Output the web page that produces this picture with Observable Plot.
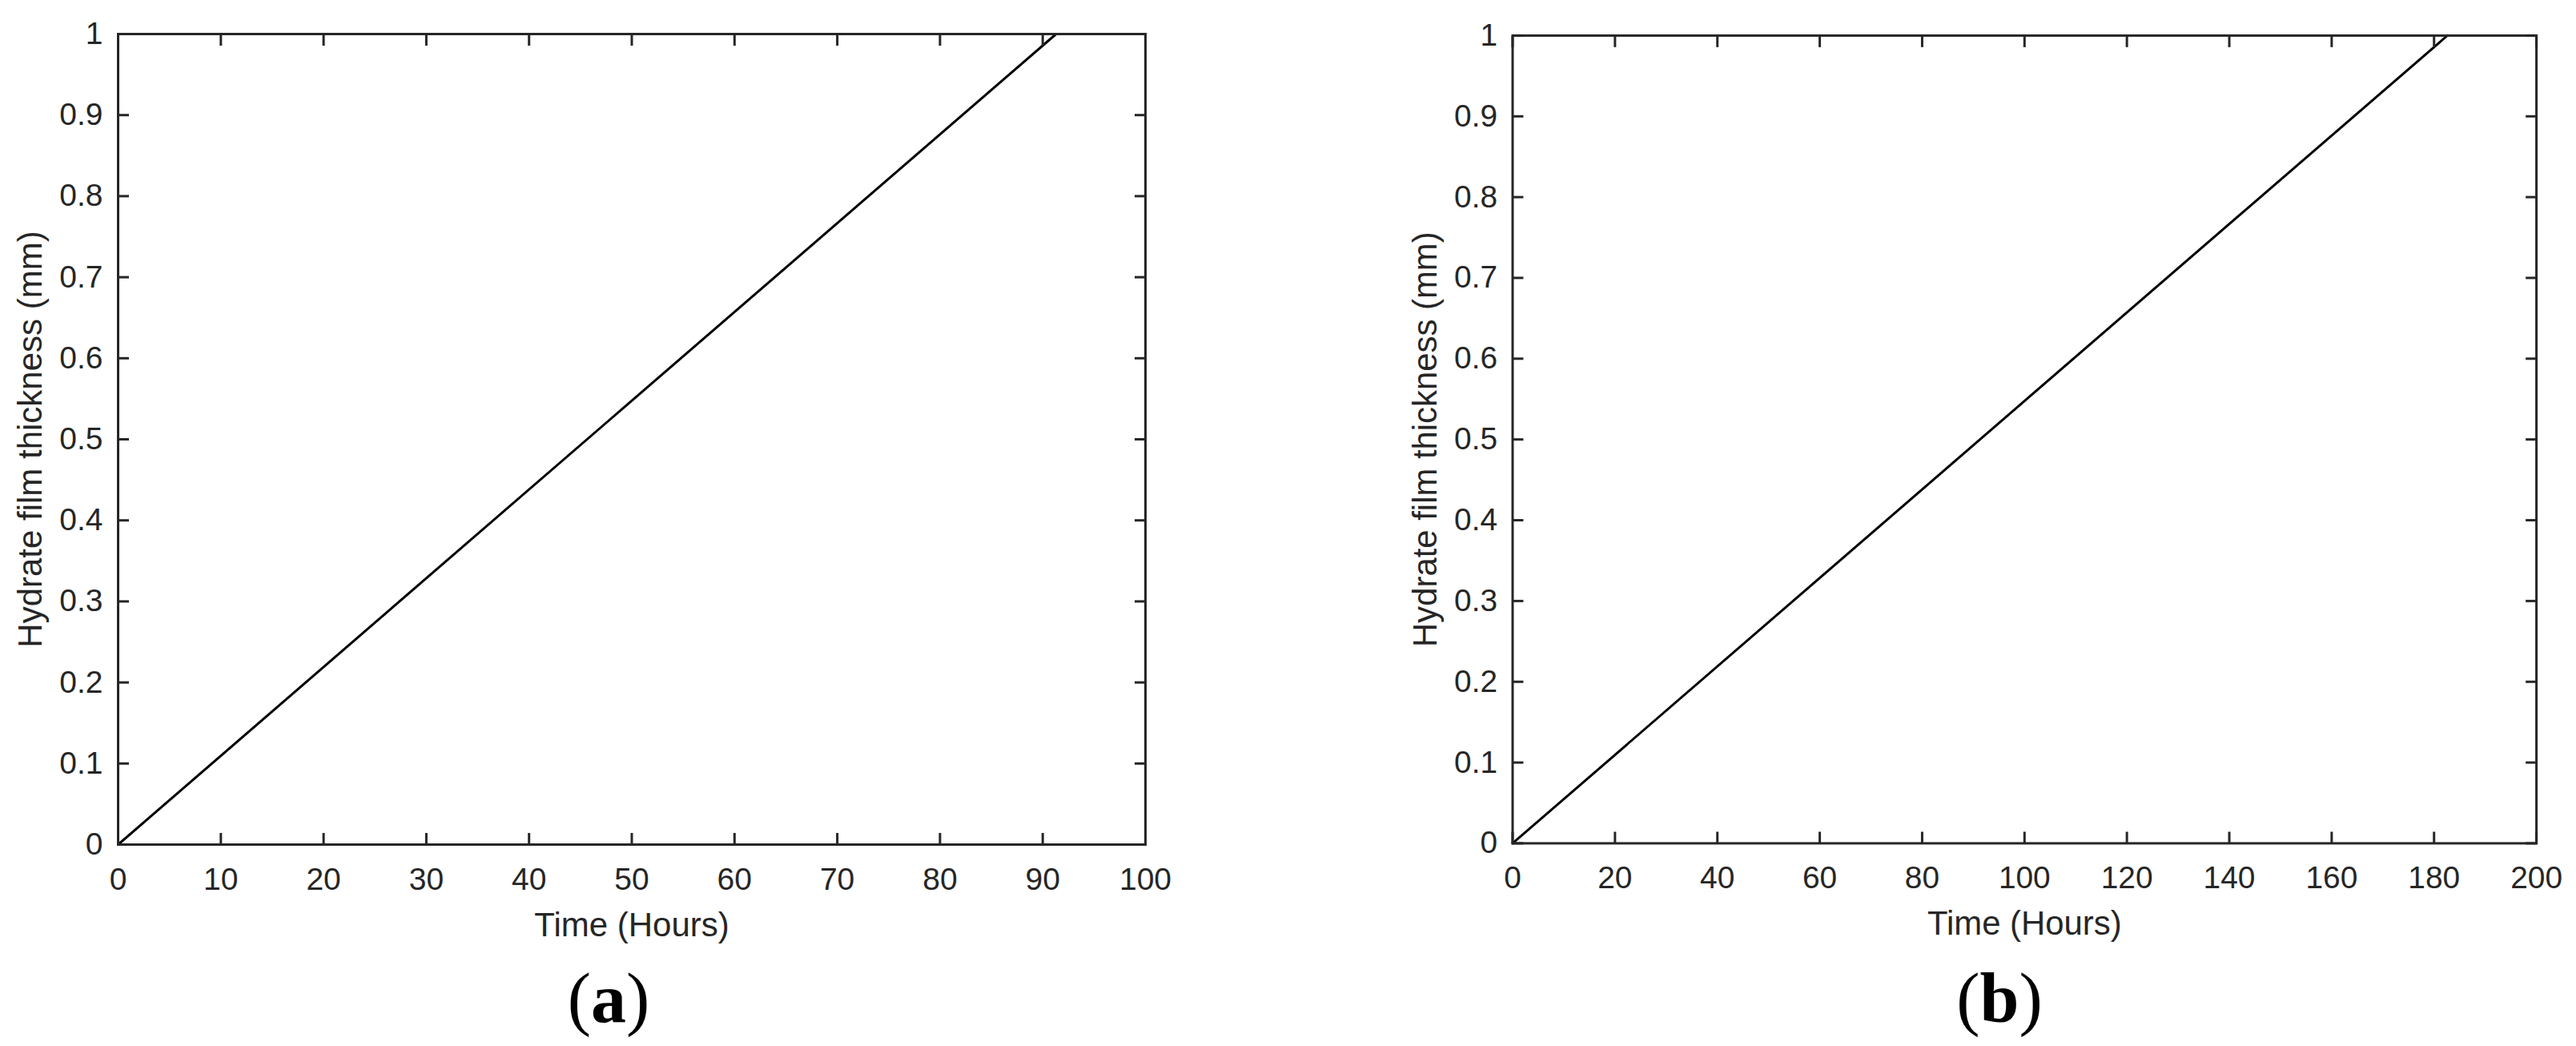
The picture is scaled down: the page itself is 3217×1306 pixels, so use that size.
<!DOCTYPE html>
<html>
<head>
<meta charset="utf-8">
<script src="https://cdn.jsdelivr.net/npm/d3@7"></script>
<script src="https://cdn.jsdelivr.net/npm/@observablehq/plot@0.6"></script>
<style>
  html, body { margin: 0; padding: 0; background: #fff; }
  #wrap { position: relative; width: 3217px; height: 1306px; background: #fff; overflow: hidden; }
  .panel { position: absolute; top: 0; }
  .cap { position: absolute; font-family: "Liberation Serif", "Times New Roman", serif; font-size: 88px; line-height: 88px; color: #000; transform: translateX(-50%); white-space: nowrap; }
  .cap b { font-weight: bold; }
</style>
</head>
<body>
<div id="wrap"></div>
<script>
// ---- data ----
const timeA = [0, 91.3];
const thickA = [0, 1];
const timeB = [0, 182.6];
const thickB = [0, 1];
const xTicksA = [0, 10, 20, 30, 40, 50, 60, 70, 80, 90, 100];
const xTicksB = [0, 20, 40, 60, 80, 100, 120, 140, 160, 180, 200];
const yTicks = [0, 0.1, 0.2, 0.3, 0.4, 0.5, 0.6, 0.7, 0.8, 0.9, 1];
const xLabel = "Time (Hours)";
const yLabel = "Hydrate film thickness (mm)";
const captions = ["a", "b"];

const fmt = d => String(+d.toFixed(2));
const ink = "#262626";

function panel(times, thick, xDomain, xTicks) {
  const data = times.map((t, i) => ({t, h: thick[i]}));
  const tickOpts = {tickSize: -14, strokeWidth: 3, stroke: ink};
  return Plot.plot({
    width: 1460,
    height: 1200,
    marginLeft: 147,
    marginRight: 30,
    marginTop: 42,
    marginBottom: 146,
    style: {fontFamily: "'Liberation Sans', Arial, sans-serif", fontSize: "39px", color: ink, background: "transparent", overflow: "visible"},
    x: {domain: xDomain},
    y: {domain: [0, 1]},
    marks: [
      Plot.line(data, {x: "t", y: "h", stroke: "#000", strokeWidth: 3}),
      Plot.frame({stroke: ink, strokeWidth: 3}),
      Plot.axisX({anchor: "bottom", ticks: xTicks, tickFormat: fmt, ...tickOpts, tickPadding: 43, fill: ink, label: null, fontSize: 39}),
      Plot.axisX({anchor: "top", ticks: xTicks, tickFormat: () => "", ...tickOpts, label: null}),
      Plot.axisY({anchor: "left", ticks: yTicks, tickFormat: fmt, ...tickOpts, tickPadding: 33, fill: ink, label: null, fontSize: 39}),
      Plot.axisY({anchor: "right", ticks: yTicks, tickFormat: () => "", ...tickOpts, label: null}),
      Plot.axisX({anchor: "bottom", ticks: [], tickSize: 0, label: xLabel, labelAnchor: "center", labelArrow: "none", labelOffset: 114, fontSize: 42, fill: ink}),
      Plot.axisY({anchor: "left", ticks: [], tickSize: 0, label: yLabel, labelAnchor: "center", labelArrow: "none", labelOffset: 125, fontSize: 42, fill: ink})
    ]
  });
}

const wrap = document.getElementById("wrap");
const pA = panel(timeA, thickA, [0, 100], xTicksA);
pA.classList.add("panel"); pA.style.left = "0px";
wrap.appendChild(pA);
const pB = panel(timeB, thickB, [0, 200], xTicksB);
pB.classList.add("panel"); pB.style.left = "1742px";
pB.setAttribute("width", 1455);
wrap.appendChild(pB);

const capPos = [760, 2497];
captions.forEach((c, i) => {
  const d = document.createElement("div");
  d.className = "cap";
  d.style.left = capPos[i] + "px";
  d.style.top = "1203px";
  d.innerHTML = "(<b>" + c + "</b>)";
  wrap.appendChild(d);
});
</script>
</body>
</html>
